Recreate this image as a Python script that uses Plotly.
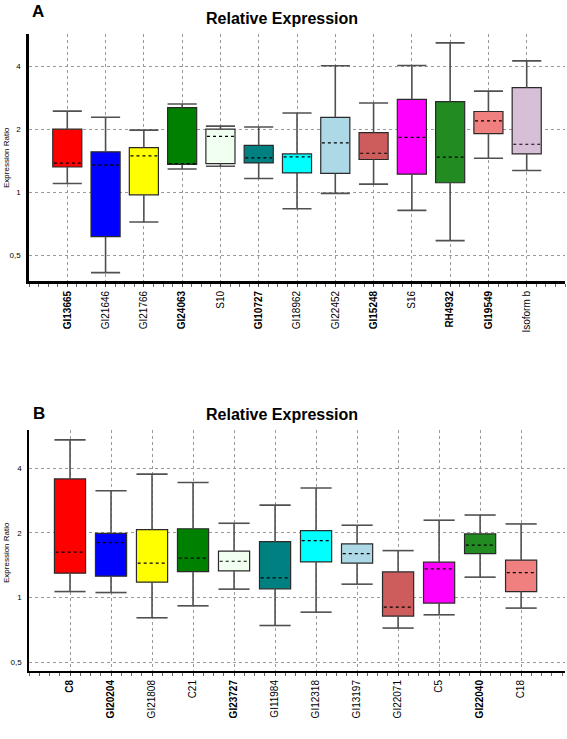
import plotly.graph_objects as go

# ---------------- Panel A data ----------------
catsA = ["GI13665", "GI21646", "GI21766", "GI24063", "S10", "GI10727", "GI18962",
         "GI22452", "GI15248", "S16", "RH4932", "GI19549", "Isoform b"]
boldA = [True, False, False, True, False, True, False, False, True, False, True, True, False]
upperA = [2.44, 2.28, 1.98, 2.64, 2.07, 2.05, 2.39, 4.02, 2.67, 4.03, 5.17, 3.04, 4.24]
q3A = [2.00, 1.56, 1.635, 2.535, 2.00, 1.676, 1.524, 2.28, 1.927, 2.78, 2.71, 2.43, 3.16]
medA = [1.376, 1.346, 1.49, 1.37, 1.85, 1.458, 1.474, 1.72, 1.535, 1.83, 1.47, 2.19, 1.695]
q1A = [1.32, 0.613, 0.972, 1.357, 1.37, 1.38, 1.237, 1.229, 1.433, 1.22, 1.11, 1.906, 1.524]
lowerA = [1.10, 0.413, 0.72, 1.29, 1.33, 1.163, 0.834, 0.987, 1.093, 0.819, 0.587, 1.454, 1.27]
colorsA = ["#FF0000", "#0000FF", "#FFFF00", "#008000", "#F0FFF0", "#008080", "#00FFFF",
           "#ADD8E6", "#CD5C5C", "#FF00FF", "#228B22", "#F08080", "#D8BFD8"]

# ---------------- Panel B data ----------------
catsB = ["C8", "GI20204", "GI21808", "C21", "GI23727", "GI11984", "GI12318",
         "GI13197", "GI22071", "C5", "GI22040", "C18"]
boldB = [True, True, False, False, True, False, False, False, False, False, True, False]
upperB = [5.41, 3.14, 3.75, 3.43, 2.216, 2.69, 3.23, 2.17, 1.654, 2.29, 2.42, 2.20]
q3B = [3.56, 1.99, 2.07, 2.09, 1.643, 1.82, 2.05, 1.776, 1.317, 1.461, 1.977, 1.493]
medB = [1.626, 1.80, 1.446, 1.525, 1.476, 1.236, 1.84, 1.60, 0.903, 1.36, 1.752, 1.308]
q1B = [1.299, 1.258, 1.18, 1.32, 1.33, 1.099, 1.466, 1.445, 0.821, 0.943, 1.60, 1.067]
lowerB = [1.067, 1.056, 0.806, 0.916, 1.095, 0.742, 0.856, 1.155, 0.722, 0.832, 1.245, 0.894]
colorsB = ["#FF0000", "#0000FF", "#FFFF00", "#008000", "#F0FFF0", "#008080", "#00FFFF",
           "#ADD8E6", "#CD5C5C", "#FF00FF", "#228B22", "#F08080"]

yticks = [0.5, 1, 2, 4]
yticktext = ["0,5", "1", "2", "4"]

FONT = "Liberation Sans, Arial, sans-serif"
BW = 0.76

fig = go.Figure()


def add_panel(cats, upper, q3, med, q1, lower, colors, xa, ya):
    n = len(cats)
    xs = list(range(n))
    # whiskers + caps
    wx, wy = [], []
    for i in xs:
        wx += [i, i, None, i, i, None,
               i - BW / 2, i + BW / 2, None, i - BW / 2, i + BW / 2, None]
        wy += [q3[i], upper[i], None, q1[i], lower[i], None,
               upper[i], upper[i], None, lower[i], lower[i], None]
    fig.add_trace(go.Scatter(x=wx, y=wy, mode="lines", xaxis=xa, yaxis=ya,
                             line=dict(color="#505050", width=1.6),
                             hoverinfo="skip", showlegend=False))
    # boxes
    fig.add_trace(go.Bar(x=xs, base=q1, y=[q3[i] - q1[i] for i in xs], width=BW,
                         xaxis=xa, yaxis=ya,
                         marker=dict(color=colors, line=dict(color="#2a2a2a", width=1.2)),
                         showlegend=False))
    # dotted medians
    mx, my = [], []
    for i in xs:
        mx += [i - BW / 2 + 0.03, i + BW / 2 - 0.03, None]
        my += [med[i], med[i], None]
    fig.add_trace(go.Scatter(x=mx, y=my, mode="lines", xaxis=xa, yaxis=ya,
                             line=dict(color="#000000", width=1.2, dash="dot"),
                             hoverinfo="skip", showlegend=False))


add_panel(catsA, upperA, q3A, medA, q1A, lowerA, colorsA, "x", "y")
add_panel(catsB, upperB, q3B, medB, q1B, lowerB, colorsB, "x2", "y2")


def xaxis_cfg(cats, bold, rng, anchor, lw):
    return dict(
        range=rng, anchor=anchor,
        tickmode="array", tickvals=list(range(len(cats))),
        ticktext=[("<b>%s</b>" % c) if b else c for c, b in zip(cats, bold)],
        tickangle=-90, tickfont=dict(family=FONT, size=10, color="#000"),
        showgrid=True, gridcolor="#9a9a9a", griddash="dot", gridwidth=1,
        showline=True, linecolor="#000", linewidth=lw,
        ticks="outside", ticklen=3, tickcolor="#444",
        minor=dict(dtick=0.25, tick0=0, ticks="outside", ticklen=3, tickcolor="#666",
                   showgrid=False),
        zeroline=False, fixedrange=True,
    )


def yaxis_cfg(rng, domain, anchor, lw):
    return dict(
        type="log", range=rng, domain=domain, anchor=anchor,
        tickmode="array", tickvals=yticks, ticktext=yticktext,
        tickfont=dict(family=FONT, size=8, color="#000"),
        showgrid=True, gridcolor="#9a9a9a", griddash="dot", gridwidth=1,
        showline=True, linecolor="#000", linewidth=lw,
        ticks="", ticklabelstandoff=4, zeroline=False, fixedrange=True,
    )


fig.update_layout(
    width=567, height=739,
    margin=dict(l=29, r=2, t=34, b=68),
    paper_bgcolor="white", plot_bgcolor="white",
    showlegend=False, barmode="overlay",
    xaxis=xaxis_cfg(catsA, boldA, [-1, 13], "y", 2.5),
    yaxis=yaxis_cfg([-0.425, 0.756], [0.612, 1.0], "x", 2.5),
    xaxis2=xaxis_cfg(catsB, boldB, [-1, 12.07], "y2", 2),
    yaxis2=yaxis_cfg([-0.341, 0.778], [0.0, 0.378], "x2", 1.6),
)

# Titles, panel letters, y-axis titles (positions given in page pixels)
H = 637.0
W = 536.0


def py(ypix):
    return (739 - 68 - ypix) / H


def px(xpix):
    return (xpix - 29) / W


ann = [
    dict(text="<b>A</b>", x=px(30), y=py(11), size=17, anchor="left"),
    dict(text="<b>B</b>", x=px(31), y=py(413), size=17, anchor="left"),
    dict(text="<b>Relative Expression</b>", x=px(282), y=py(18), size=16, anchor="center"),
    dict(text="<b>Relative Expression</b>", x=px(282), y=py(414), size=16, anchor="center"),
]
for a in ann:
    fig.add_annotation(text=a["text"], x=a["x"], y=a["y"], xref="paper", yref="paper",
                       xanchor=a["anchor"], yanchor="middle",
                       showarrow=False, font=dict(family=FONT, size=a["size"], color="#000"))

for ycen in [py(158), py(553)]:
    fig.add_annotation(text="Expression Ratio", x=px(6), y=ycen, xref="paper", yref="paper",
                       textangle=-90, showarrow=False, xanchor="center", yanchor="middle",
                       font=dict(family=FONT, size=8, color="#000"))

fig.write_html("out.html", config={"displayModeBar": False},
               post_script="document.body.style.margin='0';document.body.style.overflow='hidden';")
